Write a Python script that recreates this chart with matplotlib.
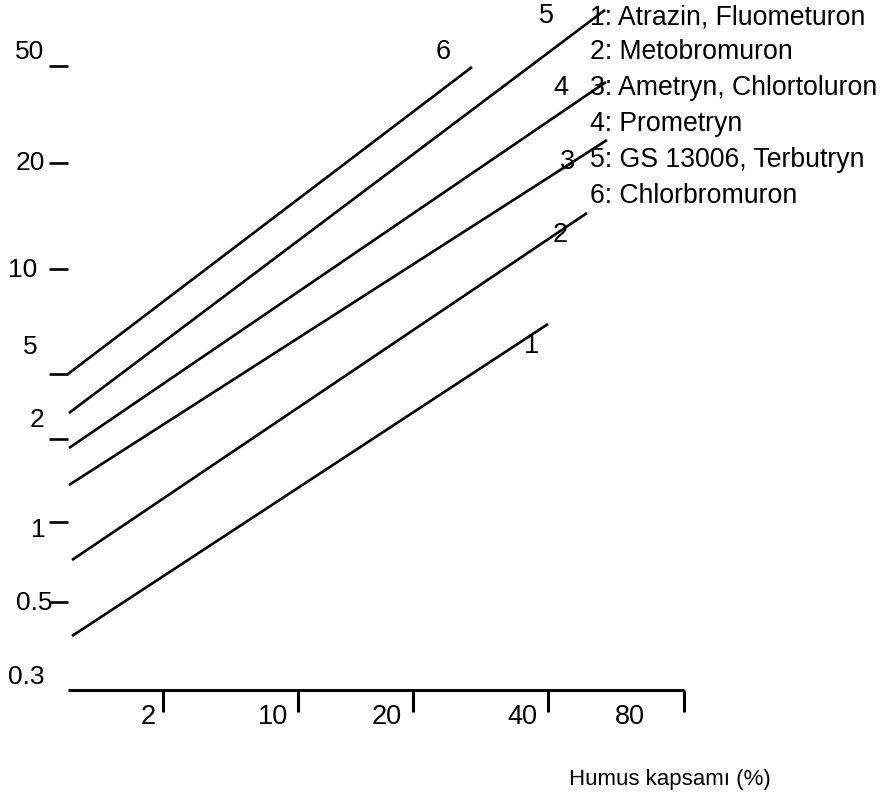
import matplotlib
matplotlib.use("Agg")
import matplotlib.pyplot as plt
from matplotlib import font_manager

# ---- data (diagram units: x to the right, y downwards) ----
series_ids = ["1", "2", "3", "4", "5", "6"]
line_x0 = [72, 72, 69, 69, 69, 68]
line_y0 = [636, 560, 485, 448, 413, 374]
line_x1 = [548, 587, 607, 606, 605, 472]
line_y1 = [324, 213, 140, 82, 10, 67]
id_label_x = [532, 560, 568, 561, 546, 443]
id_label_y = [346, 235, 162, 88, 16, 52]

legend_texts = ["1: Atrazin, Fluometuron", "2: Metobromuron", "3: Ametryn, Chlortoluron",
                "4: Prometryn", "5: GS 13006, Terbutryn", "6: Chlorbromuron"]
legend_y = [17, 52, 88, 124, 160, 196]

y_tick_labels = ["50", "20", "10", "5", "2", "1", "0.5", "0.3"]
y_tick_label_x = [30, 30, 23, 30, 37, 38, 34, 26]
y_tick_label_y = [52, 163, 270, 347, 420, 530, 603, 677]
y_tick_pos = [66, 163, 269, 374, 439, 522, 602]

x_tick_labels = ["2", "10", "20", "40", "80"]
x_tick_pos = [163, 298, 413, 548, 684]
x_tick_label_x = [148, 273, 387, 522, 630]
x_axis_start = 68
x_axis_y = 690
x_title = "Humus kapsamı (%)"

# ---- drawing ----
W, H = 883, 798
fig = plt.figure(figsize=(W / 100, H / 100), dpi=100)
ax = fig.add_axes([0, 0, 1, 1])
ax.set_xlim(0, W)
ax.set_ylim(H, 0)
ax.axis("off")

names = {f.name for f in font_manager.fontManager.ttflist}
main_font = "Liberation Sans" if "Liberation Sans" in names else "DejaVu Sans"

lw = 1.9
for x0, y0, x1, y1 in zip(line_x0, line_y0, line_x1, line_y1):
    ax.plot([x0, x1], [y0, y1], color="black", lw=lw, solid_capstyle="butt")

for sid, lx, ly in zip(series_ids, id_label_x, id_label_y):
    ax.text(lx, ly, sid, ha="center", va="center", fontsize=19.5, family=main_font)

for t, ly in zip(legend_texts, legend_y):
    ax.text(590, ly, t, ha="left", va="center", fontsize=19.2, family=main_font)

# y ticks (short horizontal marks)
for yp in y_tick_pos:
    ax.plot([49, 68], [yp, yp], color="black", lw=lw, solid_capstyle="butt")
for t, lx, ly in zip(y_tick_labels, y_tick_label_x, y_tick_label_y):
    ax.text(lx, ly, t, ha="center", va="center", fontsize=19, family=main_font)

# x axis
ax.plot([x_axis_start, x_tick_pos[-1]], [x_axis_y, x_axis_y], color="black", lw=2.2,
        solid_capstyle="butt")
for xp in x_tick_pos:
    ax.plot([xp, xp], [x_axis_y, x_axis_y + 22], color="black", lw=2.2, solid_capstyle="butt")
for t, lx in zip(x_tick_labels, x_tick_label_x):
    ax.text(lx, 717, t, ha="center", va="center", fontsize=19.5, family=main_font)

ax.text(670, 779, x_title, ha="center", va="center", fontsize=16, family=main_font)

fig.savefig("out.png", dpi=100, facecolor="white")
